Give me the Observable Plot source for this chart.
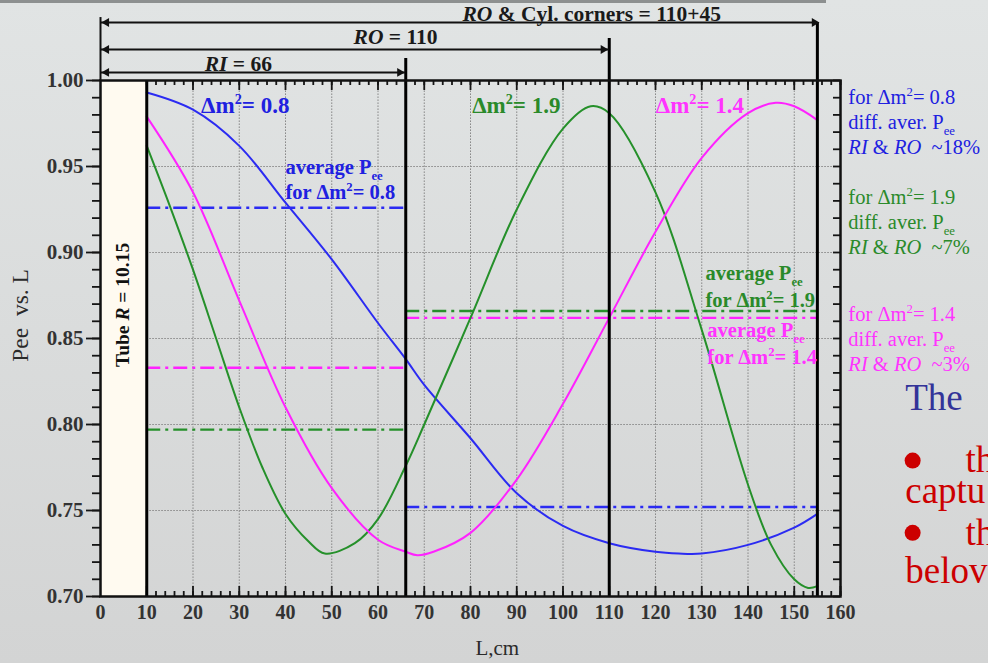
<!DOCTYPE html>
<html><head><meta charset="utf-8">
<script src="https://cdn.jsdelivr.net/npm/d3@7"></script>
<script src="https://cdn.jsdelivr.net/npm/@observablehq/plot@0.6"></script>
<style>
html,body{margin:0;padding:0;}
body{width:988px;height:663px;overflow:hidden;background:linear-gradient(#e1e4e4,#d3d4d4);position:relative;}
#chart{position:absolute;left:0;top:0;}
#topbar{position:absolute;left:0;top:0;width:826px;height:3px;background:#8d9090;}
svg text{white-space:pre;}
g[aria-label="x-axis tick label"] text, g[aria-label="y-axis tick label"] text{font-weight:bold;}
</style></head><body>
<div id="chart"></div><div id="topbar"></div>
<script>
// ---------------- data ----------------
const seriesNames = ["0.8", "1.9", "1.4"];
const seriesColors = ["#2b2bf2", "#25902a", "#ff22ff"];
const textColors = ["#2020e0", "#2a8a2a", "#ff33ff"];

const L_blue = [10, 20, 30, 40, 50, 60, 66, 70, 80, 90, 100, 110, 120, 125, 130, 140, 150, 155];
const P_blue = [0.993, 0.983, 0.962, 0.929, 0.896, 0.859, 0.838, 0.823, 0.792, 0.760, 0.741, 0.731, 0.726, 0.725, 0.725, 0.730, 0.740, 0.748];

const L_green = [10, 15, 20, 25, 30, 35, 40, 45, 48.5, 55, 60, 66, 70, 80, 90, 100, 106, 110, 120, 130, 140, 145, 150, 153, 155];
const P_green = [0.962, 0.927, 0.890, 0.850, 0.810, 0.775, 0.748, 0.732, 0.725, 0.731, 0.745, 0.776, 0.800, 0.862, 0.925, 0.972, 0.985, 0.981, 0.935, 0.855, 0.765, 0.730, 0.710, 0.705, 0.706];

const L_mag = [10, 20, 30, 40, 50, 60, 66, 68.5, 72, 80, 90, 100, 110, 120, 130, 140, 146, 150, 155];
const P_mag = [0.979, 0.935, 0.872, 0.810, 0.763, 0.733, 0.726, 0.724, 0.726, 0.737, 0.768, 0.812, 0.862, 0.912, 0.955, 0.981, 0.987, 0.985, 0.977];

// averaged Pee per region (RI: 10..66, RO: 66..155)
const avgSeries = ["0.8", "0.8", "1.9", "1.9", "1.4", "1.4"];
const avgFrom   = [10, 66, 10, 66, 10, 66];
const avgTo     = [66, 155, 66, 155, 66, 155];
const avgP      = [0.926, 0.752, 0.797, 0.866, 0.833, 0.862];

// radii markers
const radiusL = [10, 66, 110, 155];
const xTickLabels = d3.range(0, 161, 10);
const yTickLabels = [0.70, 0.75, 0.80, 0.85, 0.90, 0.95, 1.00];

// --------------- build tables ---------------
const curves = [
  ...L_blue.map((L, i) => ({s: "0.8", L, P: P_blue[i]})),
  ...L_green.map((L, i) => ({s: "1.9", L, P: P_green[i]})),
  ...L_mag.map((L, i) => ({s: "1.4", L, P: P_mag[i]}))
];
const colorOf = s => seriesColors[seriesNames.indexOf(s)];
const tcolorOf = s => textColors[seriesNames.indexOf(s)];
const avgRows = avgSeries.map((s, i) => ({s, a: avgFrom[i], b: avgTo[i], P: avgP[i]}));

const serif = "'Liberation Serif','Times New Roman',serif";
const X0 = 0, X1 = 160, Y0 = 0.70, Y1 = 1.00;

// annotation layout (data coordinates, extrapolated outside the frame)
const dividerTops = [1.00, 1.0128, 1.0244, 1.0337];
const arrowRows = [
  {a: 0, b: 66, y: 1.0047},
  {a: 0, b: 110, y: 1.0180},
  {a: 0, b: 155, y: 1.0337}
];
const topLabels = [
  {t: "*RI* = 66", x: 29.8, y: 1.0095},
  {t: "*RO* = 110", x: 63.8, y: 1.0250},
  {t: "*RO* & Cyl. corners = 110+45", x: 106.2, y: 1.0386}
];
const dmLabels = [
  {s: "0.8", x: 31.3, y: 0.9855},
  {s: "1.9", x: 89.9, y: 0.9855},
  {s: "1.4", x: 129.6, y: 0.9855}
];
const avgLabels = [
  {s: "0.8", x: 40.0, y1: 0.9494, y2: 0.9349},
  {s: "1.9", x: 130.8, y1: 0.8878, y2: 0.8721},
  {s: "1.4", x: 131.2, y1: 0.8547, y2: 0.8390}
];
const diffPct = {"0.8": "~18%", "1.9": "~7%", "1.4": "~3%"};
const sideLabels = [
  {s: "0.8", y: 0.9903}, {s: "1.9", y: 0.9320}, {s: "1.4", y: 0.8640}
];
const sideRows = sideLabels.flatMap(d => [
  {s: d.s, y: d.y, t: "for Δm^{2}= " + d.s},
  {s: d.s, y: d.y - 0.0148, t: "diff. aver. P_{ee}"},
  {s: d.s, y: d.y - 0.0293, t: "*RI* & *RO*  " + diffPct[d.s]}
]);
const slideText = [
  {t: "The", x: 174.0, y: 0.8151, c: "#333399"},
  {t: "th", x: 187.0, y: 0.7790, c: "#cc0000"},
  {t: "captu", x: 174.0, y: 0.7615, c: "#cc0000"},
  {t: "th", x: 187.0, y: 0.7370, c: "#cc0000"},
  {t: "belov", x: 174.0, y: 0.7150, c: "#cc0000"}
];
const bullets = [{x: 175.6, y: 0.7790}, {x: 175.6, y: 0.7370}];

const yMinor = d3.range(70, 101).map(d => d / 100);
const yMajor = d3.range(70, 101, 5).map(d => d / 100);
const xMinor = d3.range(10, 161, 2);
const xMajor = d3.range(10, 161, 10);
const gridX = d3.range(20, 151, 10);
const gridY = [0.75, 0.80, 0.85, 0.90, 0.95];

const W = 740, H = 516;
const tickStyle = {stroke: "#151515", strokeWidth: 1.8};

const plot = Plot.plot({
  width: 988, height: 663,
  marginLeft: 100, marginRight: 148, marginTop: 80, marginBottom: 67,
  x: {domain: [X0, X1], label: null},
  y: {domain: [Y0, Y1], label: null},
  style: {background: "transparent", fontFamily: serif, fontSize: "16px", overflow: "hidden"},
  marks: [
    // grid
    Plot.ruleX(gridX, {x: d => d, y1: Y0, y2: Y1, stroke: "#8a8a8a", strokeWidth: 1, strokeDasharray: "1.6,1.4"}),
    Plot.ruleY(gridY, {y: d => d, x1: 10, x2: X1, stroke: "#8a8a8a", strokeWidth: 1, strokeDasharray: "1.6,1.4"}),
    // tube
    Plot.rect([0], {x1: 0, x2: radiusL[0], y1: Y0, y2: Y1, fill: "#fffaf0"}),
    // averages
    Plot.ruleY(avgRows, {y: "P", x1: "a", x2: "b", stroke: d => colorOf(d.s), strokeWidth: 2.4, strokeDasharray: "14,5,3,5"}),
    // curves
    Plot.line(curves, {x: "L", y: "P", z: "s", stroke: d => colorOf(d.s), strokeWidth: 2, curve: "catmull-rom"}),
    // ticks
    Plot.tickY(yMinor, {y: d => d, insetLeft: -8, insetRight: W, ...tickStyle}),
    Plot.tickY(yMajor, {y: d => d, insetLeft: -14, insetRight: W, ...tickStyle}),
    Plot.tickY(yMinor, {y: d => d, insetLeft: W - 7, ...tickStyle}),
    Plot.tickX(xMinor, {x: d => d, insetTop: H - 5, ...tickStyle}),
    Plot.tickX(xMajor, {x: d => d, insetTop: H - 10, ...tickStyle}),
    Plot.tickX(xMinor, {x: d => d, insetBottom: H - 5, ...tickStyle}),
    Plot.tickX(xMajor, {x: d => d, insetBottom: H - 10, ...tickStyle}),
    // radius lines
    Plot.ruleX(radiusL, {x: d => d, y1: Y0, y2: (d, i) => dividerTops[i], stroke: "#000", strokeWidth: 3}),
    Plot.ruleX([0], {x: d => d, y1: Y1, y2: 1.0366, stroke: "#111", strokeWidth: 2}),
    Plot.frame({stroke: "#111", strokeWidth: 2.5}),
    // dimension arrows
    Plot.ruleY(arrowRows, {y: "y", x1: "a", x2: "b", stroke: "#111", strokeWidth: 2}),
    Plot.dot(arrowRows, {x: "a", y: "y", symbol: "triangle", r: 3.3, rotate: -90, fill: "#111", dx: 6}),
    Plot.dot(arrowRows.slice(0, 2), {x: "b", y: "y", symbol: "triangle", r: 3.3, rotate: 90, fill: "#111", dx: -6}),
    Plot.dot(arrowRows.slice(2), {x: "b", y: "y", symbol: "triangle", r: 3.3, rotate: 90, fill: "#111", dx: -3}),
    Plot.text(topLabels, {x: "x", y: "y", text: "t", fontSize: 21.5, fontWeight: "bold", fill: "#1a1a1a"}),
    // axes
    Plot.axisX(xTickLabels, {anchor: "bottom", tickSize: 0, tickPadding: 8, fontSize: 20, fontWeight: "bold", color: "#333", tickFormat: d => String(d)}),
    Plot.axisY(yTickLabels, {anchor: "left", tickSize: 0, tickPadding: 17, fontSize: 21, fontWeight: "bold", color: "#333", tickFormat: d => d.toFixed(2)}),
    Plot.text(["Pee  vs. L"], {x: -17.3, y: 0.8634, text: d => d, rotate: -90, fontSize: 23.5, fill: "#2a2a2a"}),
    Plot.text(["L,cm"], {x: 85.8, y: 0.6698, text: d => d, fontSize: 21, fill: "#2a2a2a"}),
    Plot.text(["Tube *R* = 10.15"], {x: 4.8, y: 0.8695, text: d => d, rotate: -90, fontSize: 19.5, fontWeight: "bold", fill: "#111"}),
    // in-plot labels
    Plot.text(dmLabels, {x: "x", y: "y", text: d => "Δm^{2}= " + d.s, fill: d => tcolorOf(d.s), fontSize: 23, fontWeight: "bold"}),
    Plot.text(avgLabels, {x: "x", y: "y1", text: d => "average P_{ee}", fill: d => tcolorOf(d.s), fontSize: 20.5, fontWeight: "bold", textAnchor: "start"}),
    Plot.text(avgLabels, {x: "x", y: "y2", text: d => "for Δm^{2}= " + d.s, fill: d => tcolorOf(d.s), fontSize: 20.5, fontWeight: "bold", textAnchor: "start"}),
    // side notes
    Plot.text(sideRows, {x: 161.7, y: "y", text: "t", fill: d => tcolorOf(d.s), fontSize: 20.5, textAnchor: "start"}),
    // slide text
    Plot.text(slideText, {x: "x", y: "y", text: "t", fill: "c", fontSize: 37, textAnchor: "start"}),
    Plot.dot(bullets, {x: "x", y: "y", r: 8, fill: "#cc0000"})
  ]
});
document.getElementById("chart").appendChild(plot);

// rich-text: _{sub}, ^{sup}, *italic*
function rich(svg) {
  const re = /(_\{[^}]*\}|\^\{[^}]*\}|\*[^*]*\*)/g;
  svg.querySelectorAll("text").forEach(t => {
    const nodes = t.querySelector("tspan") ? Array.from(t.querySelectorAll("tspan")) : [t];
    nodes.forEach(n => {
      const s = n.textContent;
      if (!/(_\{|\^\{|\*)/.test(s)) return;
      const fs = parseFloat(getComputedStyle(n).fontSize) || 16;
      n.textContent = "";
      let cur = 0;
      s.split(re).filter(p => p !== "").forEach(p => {
        const ts = document.createElementNS("http://www.w3.org/2000/svg", "tspan");
        let target = 0, txt = p;
        if (p.startsWith("_{")) { txt = p.slice(2, -1); target = 0.28 * fs; ts.setAttribute("font-size", (0.62 * fs) + "px"); }
        else if (p.startsWith("^{")) { txt = p.slice(2, -1); target = -0.38 * fs; ts.setAttribute("font-size", (0.62 * fs) + "px"); }
        else if (p.startsWith("*")) { txt = p.slice(1, -1); ts.setAttribute("font-style", "italic"); }
        if (target !== cur) ts.setAttribute("dy", (target - cur) + "px");
        cur = target;
        ts.textContent = txt;
        n.appendChild(ts);
      });
    });
  });
}
rich(plot);
</script>
</body></html>
